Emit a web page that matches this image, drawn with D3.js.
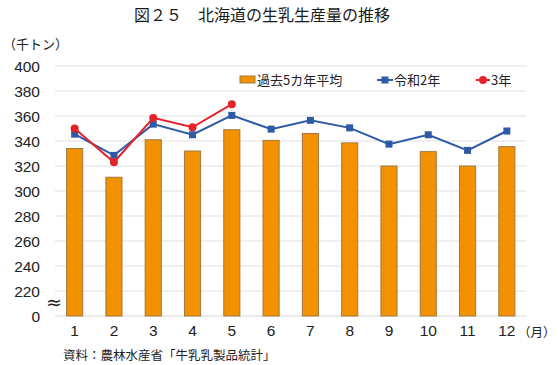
<!DOCTYPE html>
<html><head><meta charset="utf-8">
<script src="https://cdn.jsdelivr.net/npm/d3@7"></script>
<style>body{margin:0;background:#fff}svg{display:block}</style>
</head><body>
<svg id="c" width="558" height="365"></svg>
<script>
const months = ["1","2","3","4","5","6","7","8","9","10","11","12"];
const avg5 = [334, 311, 341, 332, 349, 340.5, 346, 338.5, 320, 331.5, 320, 335.5];
const r2 = [345.5, 328.5, 353.5, 345, 360.5, 349.5, 356.5, 350.5, 337.5, 345, 332.5, 348];
const r3 = [350, 323, 358.5, 351, 369.5];
const yTicks = [200, 220, 240, 260, 280, 300, 320, 340, 360, 380, 400];
const yTickLabels = ["0","220","240","260","280","300","320","340","360","380","400"];
const seriesNames = ["過去5カ年平均", "令和2年", "3年"];

const svg = d3.select("#c");
const font = "'Liberation Sans', Arial, 'Noto Sans CJK JP', sans-serif";
const jfont = "'Noto Sans CJK JP', sans-serif";
const x = d3.scaleBand().domain(months).range([55, 526.5]).paddingInner(0.59).paddingOuter(0.295);
const y = d3.scaleLinear().domain([200, 400]).range([316, 66]);
const xc = d => x(d) + x.bandwidth() / 2;

// title
svg.append("text").attr("x", 262).attr("y", 21).attr("text-anchor", "middle")
  .attr("font-family", jfont).attr("font-size", 16).attr("font-weight", 400).attr("fill", "#1a1a1a")
  .text("図２５　北海道の生乳生産量の推移");
svg.append("text").attr("x", 3).attr("y", 49).attr("font-family", jfont).attr("font-size", 13).attr("fill", "#222").text("（千トン）");

// grid
svg.append("g").selectAll("line").data(yTicks.slice(1)).join("line")
  .attr("x1", 55).attr("x2", 526.5).attr("y1", d => y(d)).attr("y2", d => y(d))
  .attr("stroke", "#e0e0e0").attr("stroke-width", 1);
svg.append("line").attr("x1", 55).attr("x2", 526.5).attr("y1", y(200)).attr("y2", y(200))
  .attr("stroke", "#d9d9d9");

// y axis
const yAxis = d3.axisLeft(y).tickValues(yTicks).tickSize(0).tickPadding(0)
  .tickFormat((d, i) => yTickLabels[i]);
const gy = svg.append("g").attr("transform", "translate(40,0)").call(yAxis);
gy.select(".domain").remove();
gy.selectAll("text").attr("font-family", font).attr("font-size", 15.5).attr("fill", "#222").attr("dy", "0.35em");

// break mark
svg.append("text").attr("x", 54).attr("y", 309).attr("text-anchor", "middle")
  .attr("font-family", "'DejaVu Sans', sans-serif").attr("font-size", 19).attr("fill", "#222").text("≈");

// x axis
const xAxis = d3.axisBottom(x).tickSize(0).tickPadding(0);
const gx = svg.append("g").attr("transform", "translate(0,325)").call(xAxis);
gx.select(".domain").remove();
gx.selectAll("text").attr("font-family", font).attr("font-size", 15.5).attr("fill", "#222").attr("dy", "0.71em");
svg.append("text").attr("x", 518).attr("y", 337).attr("font-family", jfont).attr("font-size", 12.5).attr("fill", "#222").text("（月）");

// bars
svg.append("g").selectAll("rect").data(avg5).join("rect")
  .attr("x", (d, i) => x(months[i])).attr("width", x.bandwidth())
  .attr("y", d => y(d)).attr("height", d => y(200) - y(d))
  .attr("fill", "#f39200").attr("stroke", "#a07840").attr("stroke-width", 1);

// lines
const line = d3.line().x((d, i) => xc(months[i])).y(d => y(d));
svg.append("path").datum(r2).attr("d", line).attr("fill", "none").attr("stroke", "#2f5aa6").attr("stroke-width", 2);
svg.append("g").selectAll("rect").data(r2).join("rect")
  .attr("x", (d, i) => xc(months[i]) - 3.5).attr("y", d => y(d) - 3.5)
  .attr("width", 7).attr("height", 7).attr("fill", "#2f5aa6");
svg.append("path").datum(r3).attr("d", line).attr("fill", "none").attr("stroke", "#e52228").attr("stroke-width", 2);
svg.append("g").selectAll("circle").data(r3).join("circle")
  .attr("cx", (d, i) => xc(months[i])).attr("cy", d => y(d)).attr("r", 4).attr("fill", "#e52228");

// legend
const lg = svg.append("g").attr("font-family", jfont).attr("font-size", 13).attr("fill", "#222");
lg.append("rect").attr("x", 240).attr("y", 76).attr("width", 15).attr("height", 7).attr("fill", "#f39200").attr("stroke", "#a07840");
lg.append("text").attr("x", 257).attr("y", 84.5).text(seriesNames[0]);
lg.append("line").attr("x1", 377).attr("x2", 393).attr("y1", 80).attr("y2", 80).attr("stroke", "#2f5aa6").attr("stroke-width", 2);
lg.append("rect").attr("x", 381.5).attr("y", 76.5).attr("width", 7).attr("height", 7).attr("fill", "#2f5aa6");
lg.append("text").attr("x", 394).attr("y", 84.5).text(seriesNames[1]);
lg.append("line").attr("x1", 476).attr("x2", 490).attr("y1", 80).attr("y2", 80).attr("stroke", "#e52228").attr("stroke-width", 2);
lg.append("circle").attr("cx", 483).attr("cy", 80).attr("r", 4).attr("fill", "#e52228");
lg.append("text").attr("x", 491).attr("y", 84.5).text(seriesNames[2]);

// source
svg.append("text").attr("x", 63).attr("y", 360).attr("font-family", jfont).attr("font-size", 12.5).attr("fill", "#222")
  .text("資料：農林水産省「牛乳乳製品統計」");
</script>
</body></html>
